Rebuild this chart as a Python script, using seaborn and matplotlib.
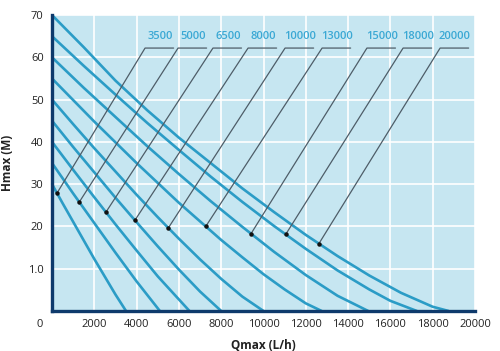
import numpy as np
import pandas as pd
import matplotlib
matplotlib.use('Agg')
import matplotlib.pyplot as plt
import matplotlib.transforms as mtransforms
import seaborn as sns

# Pump models (label above the chart)
models = ['3500', '5000', '6500', '8000', '10000', '13000', '15000', '18000', '20000']

# Head / flow curves (Qmax in L/h, Hmax in m)
q_3500 = [0, 500, 1000, 1500, 2000, 2500, 3000, 3500]
h_3500 = [30, 25.5, 21.1, 16.7, 12.3, 8.1, 3.9, 0]
q_5000 = [0, 1000, 2000, 3000, 4000, 5100]
h_5000 = [35, 27.8, 20.8, 13.8, 7.0, 0]
q_6500 = [0, 1000, 2000, 3000, 4000, 5000, 6500]
h_6500 = [40, 33.4, 26.9, 20.5, 14.3, 8.2, 0]
q_8000 = [0, 1000, 2000, 3000, 4000, 5000, 6000, 7000, 8000]
h_8000 = [45, 38.8, 32.8, 26.8, 21.0, 15.3, 9.8, 4.6, 0]
q_10000 = [0, 1000, 2000, 3000, 4000, 5000, 6000, 7000, 8000, 9000, 10000]
h_10000 = [50, 44.2, 38.5, 33.0, 27.5, 22.2, 17.1, 12.2, 7.6, 3.4, 0]
q_13000 = [0, 1000, 2000, 3000, 4000, 5000, 6000, 7000, 8000, 9000, 10000, 11000, 12000, 12750]
h_13000 = [55, 49.9, 44.8, 39.9, 35.0, 30.3, 25.6, 21.2, 16.8, 12.7, 8.7, 5.1, 1.8, 0]
q_15000 = [0, 1500, 3000, 4500, 6000, 7500, 9000, 10500, 12000, 13500, 14950]
h_15000 = [60, 52.8, 45.9, 39.0, 32.4, 26.0, 19.9, 14.0, 8.5, 3.6, 0]
q_18000 = [0, 1500, 3000, 4500, 6000, 7500, 9000, 10500, 12000, 13500, 15000, 16000, 17250]
h_18000 = [65, 58.0, 51.2, 44.5, 38.1, 31.8, 25.8, 20.1, 14.7, 9.6, 5.1, 2.4, 0]
q_20000 = [0, 1500, 3000, 4500, 6000, 7500, 9000, 10500, 12000, 13500, 15000, 16500, 18000, 18750]
h_20000 = [70, 62.4, 54.5, 47.5, 41.0, 35.0, 29.0, 23.4, 18.0, 13.0, 8.4, 4.3, 1.0, 0]

# where each leader line points to on its curve, and where its label sits
arrow_q = [236, 1290, 2550, 3920, 5500, 7270, 9410, 11050, 12620]
label_q = [4400, 5960, 7610, 9270, 11020, 12770, 14890, 16600, 18350]

x_ticks = [0, 2000, 4000, 6000, 8000, 10000, 12000, 14000, 16000, 18000, 20000]
y_ticks = [10, 20, 30, 40, 50, 60, 70]
y_tick_labels = ['1.0', '20', '30', '40', '50', '60', '70']

curves = {
    '3500': (q_3500, h_3500), '5000': (q_5000, h_5000), '6500': (q_6500, h_6500),
    '8000': (q_8000, h_8000), '10000': (q_10000, h_10000), '13000': (q_13000, h_13000),
    '15000': (q_15000, h_15000), '18000': (q_18000, h_18000), '20000': (q_20000, h_20000),
}

rows = []
for m in models:
    qs, hs = curves[m]
    for q, h in zip(qs, hs):
        rows.append({'model': m, 'Q': q, 'H': h})
df = pd.DataFrame(rows)

sns.set_style('whitegrid', {'axes.facecolor': '#c6e6f1', 'grid.color': 'white'})
plt.rcParams['font.family'] = ['Open Sans', 'DejaVu Sans']

fig = plt.figure(figsize=(5, 3.51), dpi=100)
ax = fig.add_axes([0.104, 0.114, 0.846, 0.843])

curve_color = '#2b9cc6'
sns.lineplot(data=df, x='Q', y='H', hue='model', palette=[curve_color] * len(models),
             linewidth=1.9, legend=False, ax=ax, sort=False)

# leader lines from the model labels to the curves
seg_h = 62.2
seg_len = 1350
for m, aq, lq in zip(models, arrow_q, label_q):
    qs, hs = curves[m]
    ah = np.interp(aq, qs, hs)
    ax.plot([lq + seg_len, lq, aq], [seg_h, seg_h, ah], color='#4e5d68', lw=0.9, zorder=3)
    ax.plot([aq], [ah], marker='o', ms=2.2, color='#111111', zorder=4)
    ax.text(lq + 700, 65.0, m, ha='center', va='center', fontsize=8,
            color='#3aa8d4', fontweight='semibold')

ax.set_xlim(0, 20000)
ax.set_ylim(0, 70)
ax.set_xticks(x_ticks)
ax.set_xticklabels([str(t) for t in x_ticks])
ax.set_yticks(y_ticks)
ax.set_yticklabels(y_tick_labels)
ax.grid(True, color='white', lw=1.2)
ax.tick_params(axis='both', length=0, labelsize=8, colors='#222222', pad=6)

# the corner "0" sits left of the axis
lab0 = ax.get_xticklabels()[0]
lab0.set_transform(lab0.get_transform() + mtransforms.ScaledTranslation(-12 / 100, 0, fig.dpi_scale_trans))

for side in ['top', 'right']:
    ax.spines[side].set_visible(False)
for side in ['left', 'bottom']:
    ax.spines[side].set_color('#0e3a6c')
    ax.spines[side].set_linewidth(2.4)

ax.set_xlabel('Qmax (L/h)', fontsize=8.5, fontweight='bold', color='#222222', labelpad=6)
ax.set_ylabel('Hmax (M)', fontsize=8.5, fontweight='bold', color='#222222', labelpad=10)

fig.savefig('out.png', dpi=100, facecolor='white')
